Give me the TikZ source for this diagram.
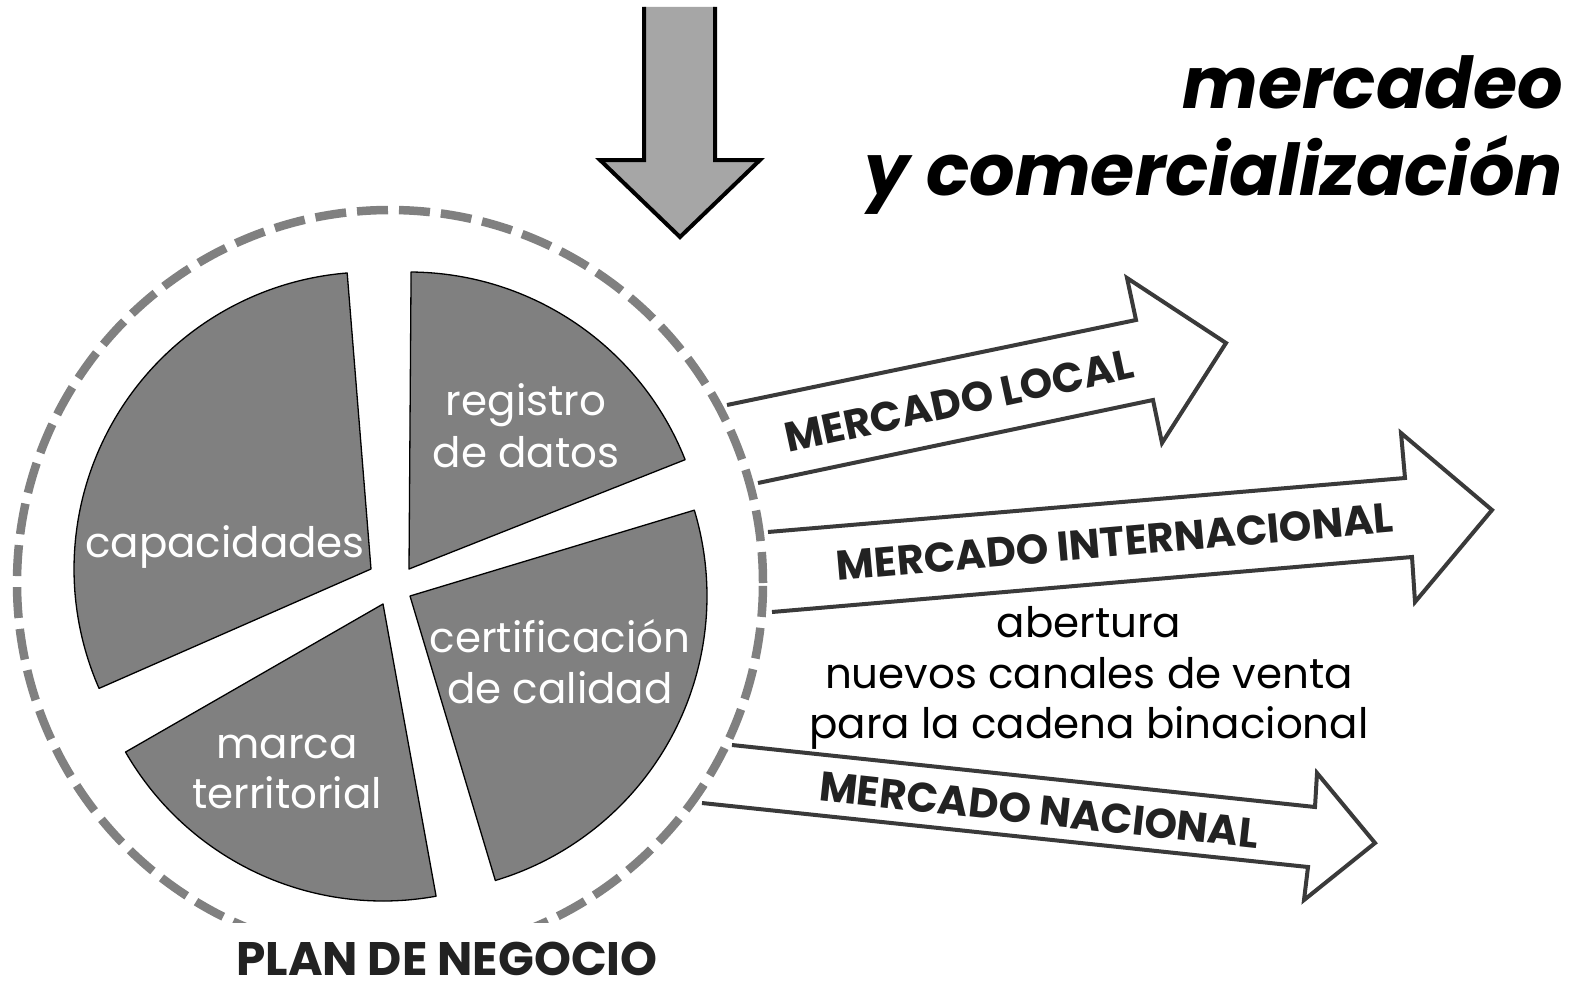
\documentclass[tikz,border=0pt]{standalone}
\usepackage{fontspec}
\setmainfont{Poppins}
\definecolor{wedgegray}{HTML}{808080}
\definecolor{dashgray}{HTML}{808080}
\definecolor{downfill}{HTML}{A6A6A6}
\definecolor{arrowline}{HTML}{3A3A3A}
\definecolor{labelink}{HTML}{222222}
\begin{document}
\begin{tikzpicture}[x=1pt,y=-1pt,
  wedge/.style={fill=wedgegray, draw=black, line width=1.3pt, line join=round},
  wtext/.style={text=white, font=\fontsize{42}{50}\selectfont, inner sep=0pt, anchor=base},
  btext/.style={text=black, font=\fontsize{42}{50}\selectfont, inner sep=0pt, anchor=base},
  blockarrow/.style={draw=arrowline, line width=4pt, fill=white, line join=miter},
  mlabel/.style={font=\bfseries\fontsize{41.5}{44}\selectfont, text=labelink, inner sep=0pt},
  titletext/.style={font=\bfseries\itshape\fontsize{71.5}{80}\selectfont, text=black, inner sep=0pt, anchor=base east},
]
\useasboundingbox (0,0) rectangle (1570,982);
\fill[white] (0,0) rectangle (1570,982);

% down arrow
\fill[downfill] (644,7) -- (644,160) -- (600,160) -- (680,237) -- (760,160) -- (715,160) -- (715,7) -- cycle;
\draw[black, line width=4pt, line join=miter] (644,7) -- (644,160) -- (600,160) -- (680,237) -- (760,160) -- (715,160) -- (715,7);

% block arrows
\draw[blockarrow] (758,483) -- (1153,400) -- (1162,443) -- (1226,343) -- (1127,278) -- (1136,320) -- (727,405);
\draw[blockarrow] (772,612) -- (1412,557) -- (1415,602) -- (1492,510) -- (1401,433) -- (1405,478) -- (768,532);
\draw[blockarrow] (702,803) -- (1308,867) -- (1304,900) -- (1375,843) -- (1317,773) -- (1315,807) -- (732,745);

% dashed circle
\begin{scope}
\clip (0,0) rectangle (1570,922);
\draw[dashgray, line width=8.5pt, dash pattern=on 31pt off 11pt] (390,583) circle[radius=373pt];
\end{scope}

% wedges
\draw[wedge] (409,569) -- ++(89.6:297pt) arc[start angle=89.6, end angle=21.6, radius=297pt] -- cycle;
\draw[wedge] (371,569) -- ++(94.6:297pt) arc[start angle=94.6, end angle=203.7, radius=297pt] -- cycle;
\draw[wedge] (383,604) -- ++(209.9:297pt) arc[start angle=209.9, end angle=280.3, radius=297pt] -- cycle;
\draw[wedge] (410,596) -- ++(286.7:297pt) arc[start angle=286.7, end angle=376.8, radius=297pt] -- cycle;

% wedge texts
\node[wtext] (cap) at (225,557) {capacidades};
\node[wtext] (reg1) at (526,415) {registro};
\node[wtext] (reg2) at (526,467) {de datos};
\node[wtext] (cer1) at (560,652) {certificación};
\node[wtext] (cer2) at (560,703) {de calidad};
\node[wtext] (mar1) at (287,758) {marca};
\node[wtext] (mar2) at (287,808) {territorial};

% side text
\node[btext] (ab1) at (1089,637) {abertura};
\node[btext] (ab2) at (1089,688) {nuevos canales de venta};
\node[btext] (ab3) at (1089,738) {para la cadena binacional};

% arrow labels
\node[mlabel, rotate=12.2] (local) at (959,401) {MERCADO LOCAL};
\node[mlabel, rotate=5] (inter) at (1115,542) {MERCADO INTERNACIONAL};
\node[mlabel, rotate=-6.2] (nac) at (1039,810) {MERCADO NACIONAL};

% titles
\node[titletext] (t1) at (1563,108) {mercadeo};
\node[titletext] (t2) at (1563,195) {y comercialización};

\node[font=\bfseries\fontsize{47}{52}\selectfont, text=labelink, inner sep=0pt, anchor=base] (plan) at (447,975) {PLAN DE NEGOCIO};
\end{tikzpicture}
\end{document}
